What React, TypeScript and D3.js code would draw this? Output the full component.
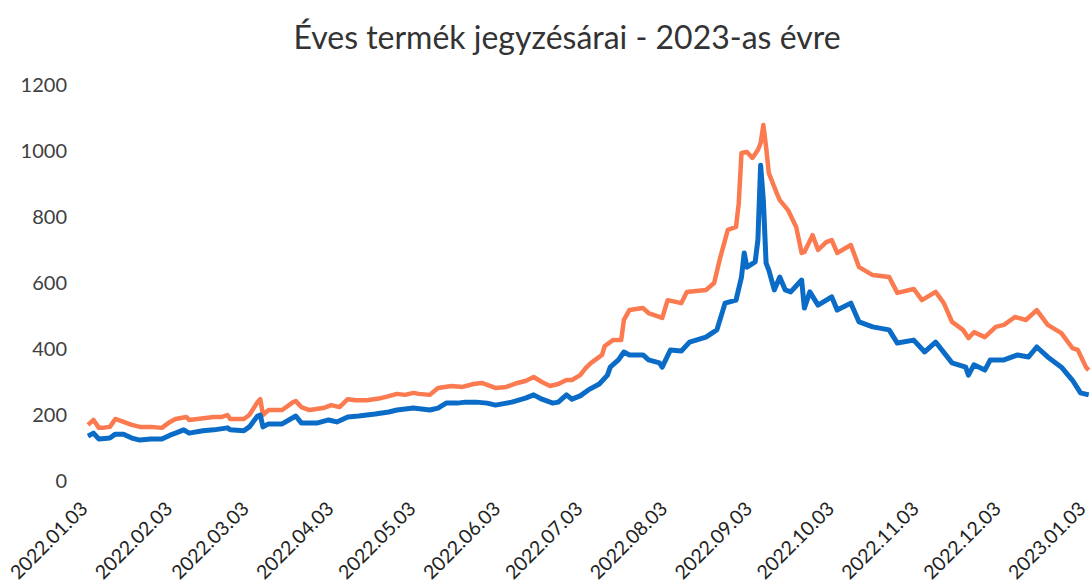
import * as d3 from "d3";
import { useRef, useEffect } from "react";

const title = "Éves termék jegyzésárai - 2023-as évre";

const tickLabels = [
  "2022.01.03", "2022.02.03", "2022.03.03", "2022.04.03", "2022.05.03", "2022.06.03", "2022.07.03",
  "2022.08.03", "2022.09.03", "2022.10.03", "2022.11.03", "2022.12.03", "2023.01.03",
];
const yTicks = [0, 200, 400, 600, 800, 1000, 1200];

const orangeDates = [
  "2022.01.03", "2022.01.05", "2022.01.07", "2022.01.08", "2022.01.11", "2022.01.13", "2022.01.16", "2022.01.19",
  "2022.01.22", "2022.01.26", "2022.01.30", "2022.02.02", "2022.02.04", "2022.02.08", "2022.02.09", "2022.02.15",
  "2022.02.18", "2022.02.21", "2022.02.23", "2022.02.24", "2022.03.01", "2022.03.03", "2022.03.06", "2022.03.07",
  "2022.03.08", "2022.03.10", "2022.03.15", "2022.03.19", "2022.03.20", "2022.03.22", "2022.03.25", "2022.03.30",
  "2022.04.02", "2022.04.05", "2022.04.08", "2022.04.11", "2022.04.15", "2022.04.20", "2022.04.22", "2022.04.26",
  "2022.04.29", "2022.05.02", "2022.05.04", "2022.05.08", "2022.05.11", "2022.05.16", "2022.05.20", "2022.05.24",
  "2022.05.27", "2022.06.01", "2022.06.05", "2022.06.09", "2022.06.12", "2022.06.15", "2022.06.18", "2022.06.21",
  "2022.06.24", "2022.06.27", "2022.06.29", "2022.07.02", "2022.07.04", "2022.07.06", "2022.07.10", "2022.07.11",
  "2022.07.14", "2022.07.17", "2022.07.18", "2022.07.20", "2022.07.25", "2022.07.27", "2022.08.01", "2022.08.03",
  "2022.08.08", "2022.08.10", "2022.08.17", "2022.08.20", "2022.08.22", "2022.08.25", "2022.08.28", "2022.08.29",
  "2022.08.30", "2022.09.01", "2022.09.03", "2022.09.05", "2022.09.06", "2022.09.07", "2022.09.08", "2022.09.09",
  "2022.09.10", "2022.09.12", "2022.09.13", "2022.09.16", "2022.09.19", "2022.09.21", "2022.09.22", "2022.09.25",
  "2022.09.27", "2022.09.30", "2022.10.02", "2022.10.04", "2022.10.09", "2022.10.12", "2022.10.17", "2022.10.23",
  "2022.10.26", "2022.11.01", "2022.11.04", "2022.11.09", "2022.11.12", "2022.11.15", "2022.11.19", "2022.11.21",
  "2022.11.23", "2022.11.27", "2022.12.01", "2022.12.04", "2022.12.08", "2022.12.12", "2022.12.16", "2022.12.20",
  "2022.12.25", "2022.12.29", "2022.12.31", "2023.01.03", "2023.01.04",
];
const orangeValues = [
  170, 185, 161, 161, 164, 188, 179, 170,
  164, 164, 161, 179, 188, 194, 185, 191,
  194, 194, 200, 188, 188, 200, 239, 248,
  200, 215, 215, 239, 242, 224, 215, 221,
  230, 224, 248, 245, 245, 251, 255, 264,
  261, 267, 264, 261, 282, 288, 285, 294,
  297, 282, 285, 297, 303, 315, 300, 288,
  294, 306, 306, 321, 342, 358, 382, 409,
  427, 427, 488, 518, 524, 509, 494, 548,
  539, 573, 579, 600, 670, 761, 770, 842,
  994, 997, 979, 1003, 1024, 1079, 1012, 933,
  912, 870, 851, 821, 770, 691, 694, 745,
  700, 724, 730, 691, 715, 648, 624, 618,
  570, 582, 548, 573, 539, 482, 458, 433,
  451, 436, 467, 473, 497, 488, 518, 473,
  448, 403, 397, 345, 336,
];

const blueDates = [
  "2022.01.03", "2022.01.05", "2022.01.07", "2022.01.11", "2022.01.13", "2022.01.16", "2022.01.19", "2022.01.22",
  "2022.01.26", "2022.01.30", "2022.02.02", "2022.02.04", "2022.02.07", "2022.02.09", "2022.02.14", "2022.02.18",
  "2022.02.23", "2022.02.24", "2022.03.01", "2022.03.03", "2022.03.06", "2022.03.07", "2022.03.08", "2022.03.10",
  "2022.03.15", "2022.03.20", "2022.03.22", "2022.03.28", "2022.04.01", "2022.04.04", "2022.04.08", "2022.04.12",
  "2022.04.18", "2022.04.23", "2022.04.26", "2022.05.02", "2022.05.08", "2022.05.11", "2022.05.14", "2022.05.18",
  "2022.05.21", "2022.05.25", "2022.05.29", "2022.06.01", "2022.06.07", "2022.06.12", "2022.06.15", "2022.06.18",
  "2022.06.22", "2022.06.24", "2022.06.27", "2022.06.29", "2022.07.02", "2022.07.05", "2022.07.09", "2022.07.12",
  "2022.07.13", "2022.07.16", "2022.07.18", "2022.07.20", "2022.07.25", "2022.07.27", "2022.07.31", "2022.08.01",
  "2022.08.04", "2022.08.08", "2022.08.11", "2022.08.17", "2022.08.21", "2022.08.24", "2022.08.28", "2022.08.30",
  "2022.08.31", "2022.09.01", "2022.09.04", "2022.09.05", "2022.09.06", "2022.09.07", "2022.09.08", "2022.09.09",
  "2022.09.11", "2022.09.13", "2022.09.15", "2022.09.17", "2022.09.21", "2022.09.22", "2022.09.24", "2022.09.27",
  "2022.10.02", "2022.10.04", "2022.10.09", "2022.10.12", "2022.10.17", "2022.10.23", "2022.10.26", "2022.11.01",
  "2022.11.05", "2022.11.09", "2022.11.15", "2022.11.20", "2022.11.21", "2022.11.23", "2022.11.27", "2022.11.29",
  "2022.12.04", "2022.12.09", "2022.12.13", "2022.12.16", "2022.12.20", "2022.12.25", "2022.12.29", "2023.01.01",
  "2023.01.04",
];
const blueValues = [
  136, 145, 127, 130, 142, 142, 130, 124,
  127, 127, 139, 145, 155, 145, 152, 155,
  161, 155, 152, 164, 197, 200, 164, 173,
  173, 197, 176, 176, 185, 179, 194, 197,
  203, 209, 215, 221, 215, 221, 236, 236,
  239, 239, 236, 230, 239, 251, 261, 248,
  236, 239, 261, 248, 258, 276, 294, 321,
  345, 367, 391, 382, 382, 367, 358, 345,
  397, 394, 421, 436, 458, 539, 548, 618,
  691, 648, 664, 730, 957, 851, 660, 639,
  579, 618, 579, 573, 609, 524, 573, 533,
  558, 518, 539, 482, 467, 458, 418, 427,
  391, 421, 358, 345, 321, 352, 336, 367,
  367, 382, 376, 406, 376, 345, 306, 267,
  261,
];

export default function App() {
  const width = 1092;
  const height = 588;
  const ref = useRef(null);

  useEffect((): void => {
    if (!ref.current) return;
    const svg = d3.select(ref.current);
    svg.selectAll("*").remove();

    const parse = d3.timeParse("%Y.%m.%d");
    const font = "Lato, 'Open Sans', sans-serif";

    const x = d3
      .scaleTime()
      .domain([parse(tickLabels[0]), parse(tickLabels[tickLabels.length - 1])])
      .range([88, 1086]);
    const y = d3.scaleLinear().domain([0, 1200]).range([481, 85]);

    svg
      .append("rect")
      .attr("width", width)
      .attr("height", height)
      .attr("fill", "#ffffff");

    svg
      .append("text")
      .attr("x", 567)
      .attr("y", 49)
      .attr("text-anchor", "middle")
      .attr("font-family", font)
      .attr("font-size", 32)
      .attr("fill", "#333333")
      .text(title);

    // y axis labels
    svg
      .append("g")
      .attr("font-family", font)
      .attr("font-size", 20)
      .attr("fill", "#404040")
      .attr("text-anchor", "end")
      .selectAll()
      .data(yTicks)
      .join("text")
      .attr("x", 67)
      .attr("y", (d) => y(d))
      .attr("dy", "0.35em")
      .text((d) => d);

    // x axis labels, rotated
    svg
      .append("g")
      .attr("font-family", font)
      .attr("font-size", 19.5)
      .attr("fill", "#222222")
      .attr("text-anchor", "end")
      .selectAll()
      .data(tickLabels)
      .join("text")
      .attr("transform", (d) => `translate(${x(parse(d)) + 1},${510}) rotate(-45)`)
      .text((d) => d);

    const line = d3
      .line<[Date, number]>()
      .x((d) => x(d[0]))
      .y((d) => y(d[1]))
      .curve(d3.curveLinear);

    const orange: [Date, number][] = orangeDates.map((d, i) => [parse(d), orangeValues[i]]);
    const blue: [Date, number][] = blueDates.map((d, i) => [parse(d), blueValues[i]]);

    svg
      .append("path")
      .datum(orange)
      .attr("fill", "none")
      .attr("stroke", "#FB7A4F")
      .attr("stroke-width", 4.5)
      .attr("stroke-linejoin", "round")
      .attr("d", line);

    svg
      .append("path")
      .datum(blue)
      .attr("fill", "none")
      .attr("stroke", "#0B6CC7")
      .attr("stroke-width", 5)
      .attr("stroke-linejoin", "round")
      .attr("d", line);
  }, []);

  return (
    <svg
      ref={ref}
      width={width}
      height={height}
      style={{ position: "absolute", left: 0, top: 0 }}
    />
  );
}
